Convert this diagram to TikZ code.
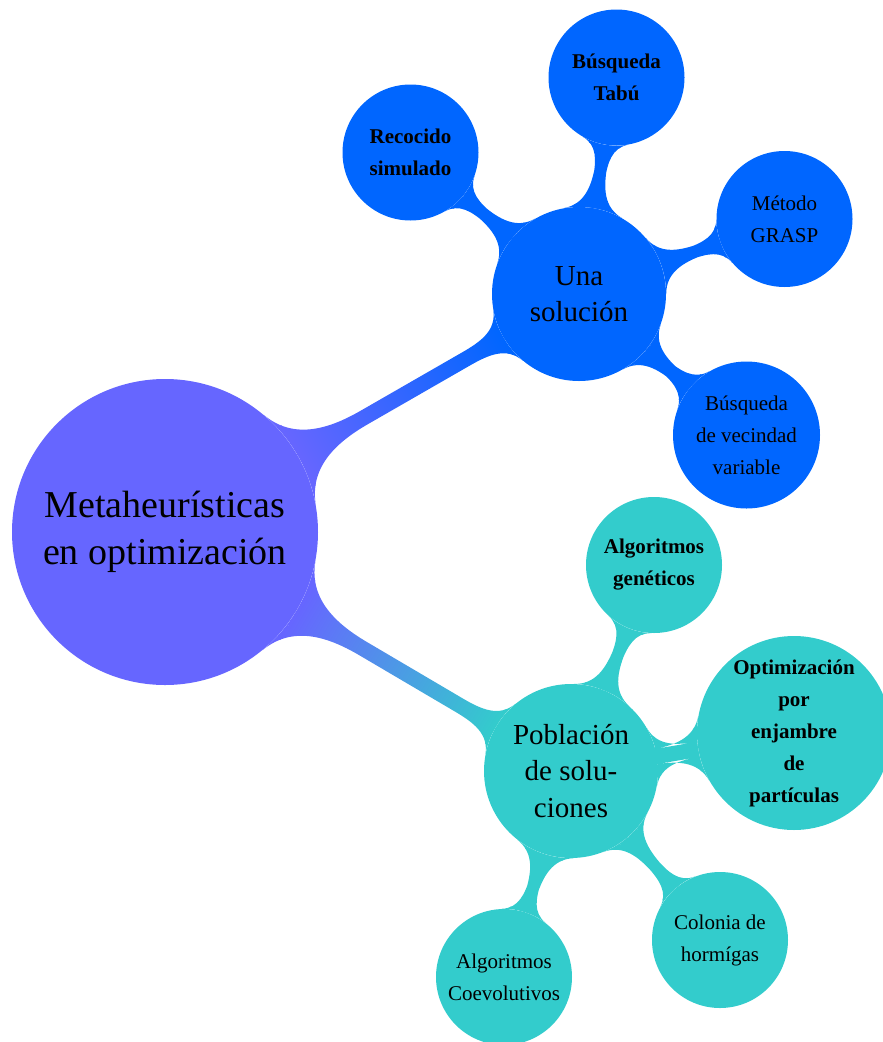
\documentclass[tikz,border=0pt]{standalone}
\usepackage{fontspec}
\setmainfont{Liberation Serif}
\usetikzlibrary{mindmap}
\definecolor{rootcol}{RGB}{102,102,255}
\definecolor{unacol}{RGB}{0,102,255}
\definecolor{pobcol}{RGB}{51,204,204}
\tikzset{
  cpt/.style={circle, inner sep=0pt, align=center, text=black},
  rootc/.style={cpt, fill=rootcol, minimum size=306pt, font=\fontsize{38}{47}\selectfont},
  lvlone/.style={cpt, minimum size=174pt, font=\fontsize{29}{36.5}\selectfont},
  lvltwo/.style={cpt, minimum size=136pt, font=\fontsize{21}{32}\selectfont},
  barone/.style={line width=18pt, decoration={amplitude=9pt}},
  bartwo/.style={line width=9pt, decoration={amplitude=4.5pt}},
}
\begin{document}
\begin{tikzpicture}[x=1pt,y=-1pt]
\useasboundingbox (0,0) rectangle (883,1042);
\node[rootc] (root) at (165,532) {Metaheurísticas\\en optimización};
\node[lvlone, fill=unacol] (una) at (579,294) {Una\\solución};
\node[lvlone, fill=pobcol] (pob) at (571,771) {Población\\de solu-\\ciones};
\node[lvltwo, fill=unacol, font=\fontsize{21}{32}\selectfont\bfseries] (rec) at (410.5,152.5) {Recocido\\simulado};
\node[lvltwo, fill=unacol, font=\fontsize{21}{32}\selectfont\bfseries] (tabu) at (616.5,77.5) {Búsqueda\\Tabú};
\node[lvltwo, fill=unacol] (grasp) at (784.5,219) {Método\\GRASP};
\node[lvltwo, fill=unacol, minimum size=147pt] (vec) at (746.5,435) {Búsqueda\\de vecindad\\variable};
\node[lvltwo, fill=pobcol, font=\fontsize{21}{32}\selectfont\bfseries] (gen) at (654,565) {Algoritmos\\genéticos};
\node[lvltwo, fill=pobcol, minimum size=194pt, font=\fontsize{21}{32}\selectfont\bfseries] (enj) at (794,733) {Optimización\\por\\enjambre\\de\\partículas};
\node[lvltwo, fill=pobcol] (col) at (720,940) {Colonia de\\hormígas};
\node[lvltwo, fill=pobcol] (coe) at (504,977) {Algoritmos\\Coevolutivos};
\path[barone] (root) to[circle connection bar switch color=from (rootcol) to (unacol)] (una);
\path[barone] (root) to[circle connection bar switch color=from (rootcol) to (pobcol)] (pob);
\path[bartwo] (una) to[circle connection bar switch color=from (unacol) to (unacol)] (rec);
\path[bartwo] (una) to[circle connection bar switch color=from (unacol) to (unacol)] (tabu);
\path[bartwo] (una) to[circle connection bar switch color=from (unacol) to (unacol)] (grasp);
\path[bartwo] (una) to[circle connection bar switch color=from (unacol) to (unacol)] (vec);
\path[bartwo] (pob) to[circle connection bar switch color=from (pobcol) to (pobcol)] (gen);
\path[bartwo] (pob) to[circle connection bar switch color=from (pobcol) to (pobcol)] (enj);
\path[bartwo] (pob) to[circle connection bar switch color=from (pobcol) to (pobcol)] (col);
\path[bartwo] (pob) to[circle connection bar switch color=from (pobcol) to (pobcol)] (coe);
\end{tikzpicture}
\end{document}
